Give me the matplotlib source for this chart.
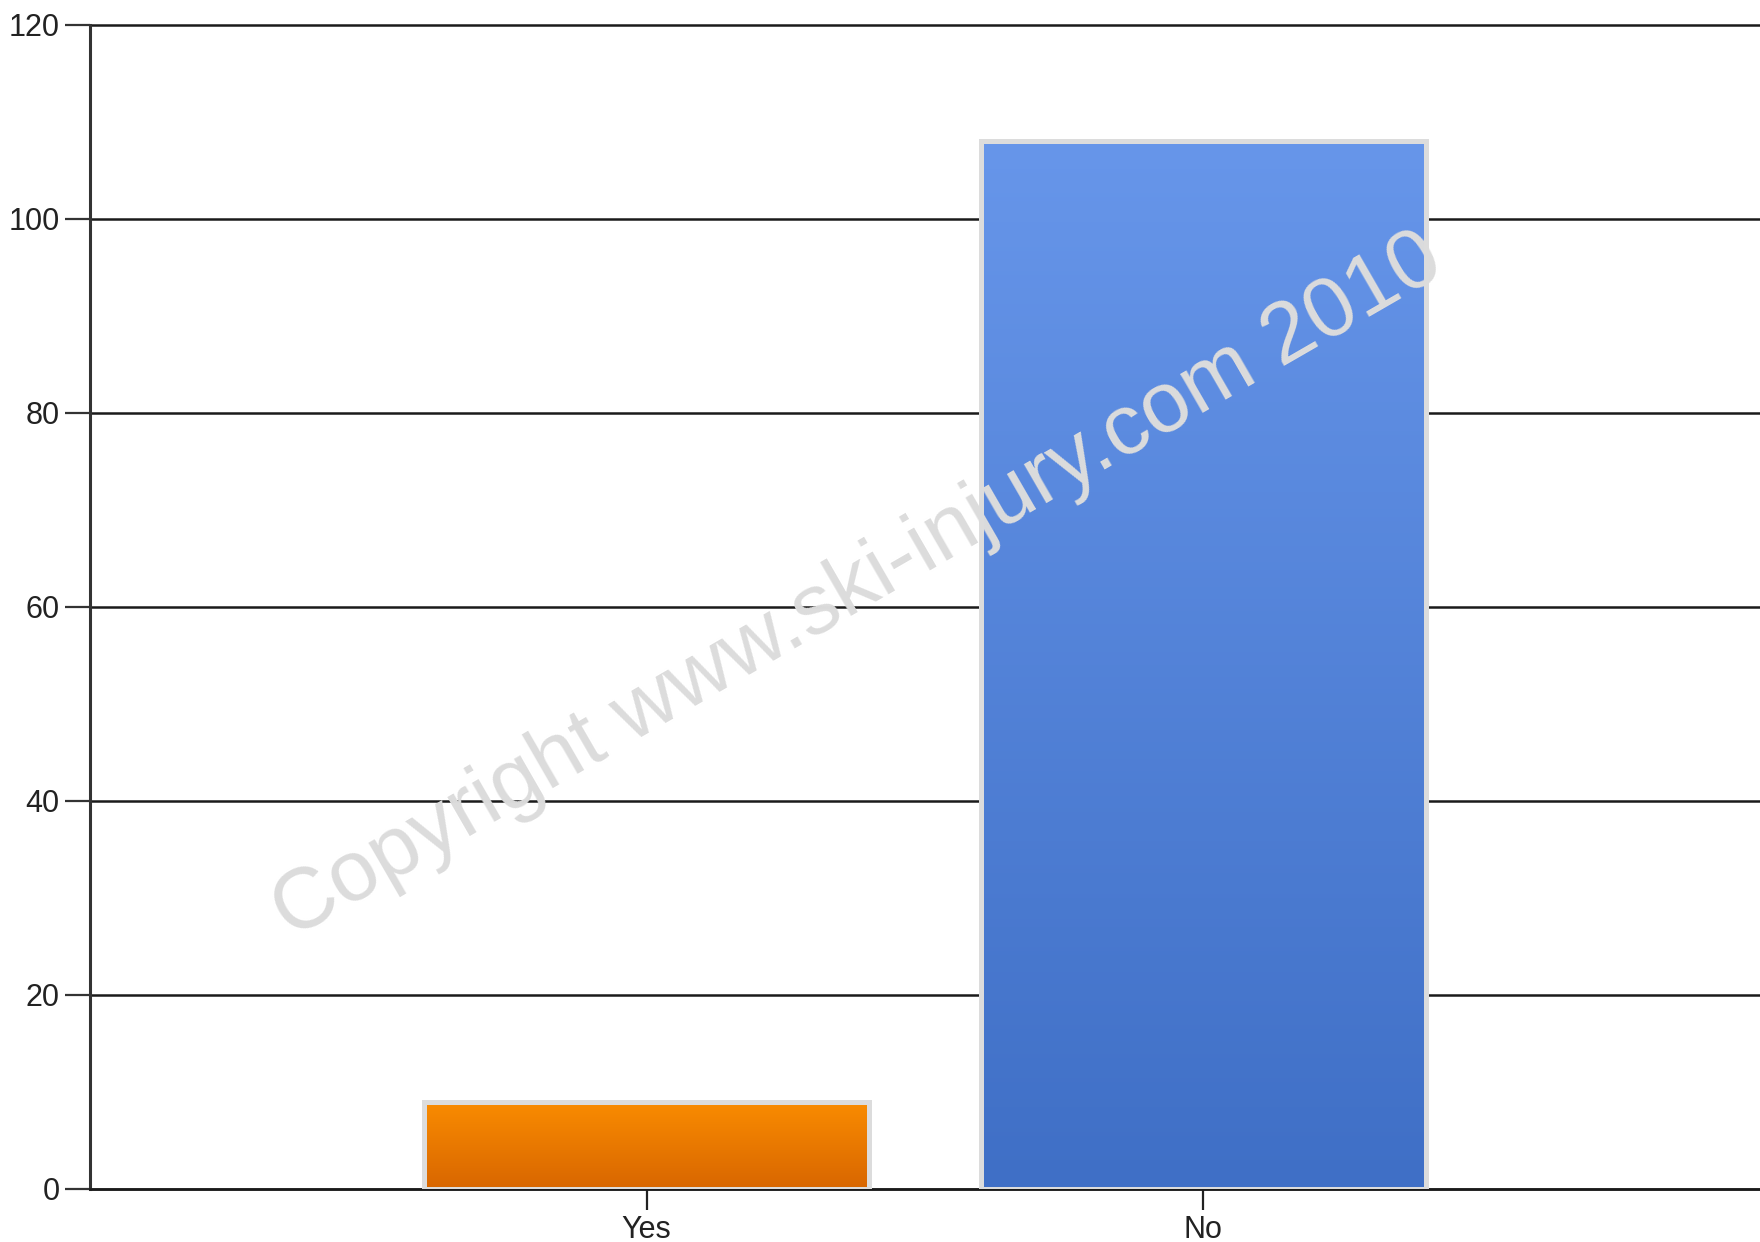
import numpy as np
import matplotlib
matplotlib.use("Agg")
import matplotlib.pyplot as plt
from matplotlib.colors import LinearSegmentedColormap

categories = ["Yes", "No"]
values = [9, 108]
top_colors = ["#fa8c00", "#6796ea"]
bottom_colors = ["#d86600", "#3f6fc6"]
yticks = [0, 20, 40, 60, 80, 100, 120]
watermark = "Copyright www.ski-injury.com 2010"

plt.rcParams['font.family'] = ['Liberation Sans', 'DejaVu Sans']

fig = plt.figure(figsize=(17.6, 12.42), dpi=100)
ax = fig.add_axes([90/1760, 1 - 1189/1242, 1 - 90/1760, (1189 - 24.5)/1242])

x = np.arange(len(categories))
bars = ax.bar(x, values, width=0.8, color="none", edgecolor="#dcdcdc", linewidth=3.6, zorder=3)
for b, tc, bc in zip(bars, top_colors, bottom_colors):
    cmap = LinearSegmentedColormap.from_list("g", [bc, tc])
    grad = np.linspace(0, 1, 256).reshape(-1, 1)
    x0, y0 = b.get_x(), b.get_y()
    im = ax.imshow(grad, cmap=cmap, origin="lower", aspect="auto",
                   extent=[x0, x0 + b.get_width(), y0, y0 + b.get_height()], zorder=2)
    im.set_clip_path(b)

ax.set_xlim(-1, 2)
ax.set_ylim(0, 120)
ax.set_yticks(yticks)
ax.set_xticks(x)
ax.set_xticklabels(categories)
ax.grid(axis="y", color="#1a1a1a", linewidth=1.8, zorder=1)
for gl in ax.get_ygridlines():
    gl.set_clip_on(False)
ax.set_axisbelow(True)
for s in ["top", "right"]:
    ax.spines[s].set_visible(False)
ax.spines["left"].set_color("#333333")
ax.spines["left"].set_linewidth(2.2)
ax.spines["bottom"].set_color("#1a1a1a")
ax.spines["bottom"].set_linewidth(1.8)
ax.tick_params(axis="y", length=18, width=1.6, color="#333333", labelsize=22, pad=4, labelcolor="#222222")
ax.tick_params(axis="x", length=15, width=1.6, color="#222222", labelsize=22, pad=4, labelcolor="#222222")

fig.text(858/1760, 1 - 587/1242, watermark, fontsize=62, color="#dcdcdc",
         rotation=30, ha="center", va="center", rotation_mode="anchor", zorder=10)

fig.savefig("out.png", dpi=100, facecolor="white")
